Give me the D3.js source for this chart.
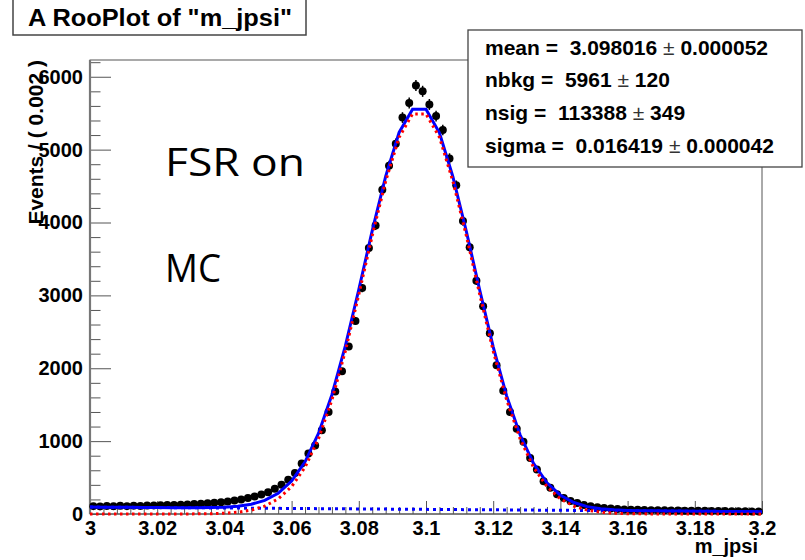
<!DOCTYPE html>
<html><head><meta charset="utf-8">
<script src="https://cdn.jsdelivr.net/npm/d3@7"></script>
<style>body{margin:0;background:#fff} svg{display:block} text{white-space:pre}</style>
</head><body>
<svg id="c" width="805" height="560"></svg>
<script>
// ---- data ----
const binCenters = d3.range(100).map(i => +(3.001 + 0.002 * i).toFixed(3));
const dataCounts = [
  108,104,110,106,112,108,114,110,116,118,
  120,124,122,128,132,136,142,146,155,162,
  172,185,200,218,240,268,300,345,400,470,
  564,692,829,940,1150,1400,1680,1960,2300,2650,
  3100,3650,3960,4450,4780,5080,5440,5640,5880,5800,
  5620,5460,5270,4880,4510,4020,3660,3200,2850,2480,
  2040,1690,1400,1170,990,770,610,450,360,270,
  220,180,150,125,105,92,82,74,68,63,
  60,57,55,53,51,50,48,47,46,45,
  44,43,42,41,40,39,38,37,36,35
];
const curveX = d3.range(51).map(i => +(3 + 0.004 * i).toFixed(3));
const totalFit = [
  95,94,92,91,90,89,87,87,87,88,
  93,105,133,187,284,452,716,1106,1637,2307,
  3081,3889,4634,5236,5555,5554,5232,4628,3880,3070,
  2293,1621,1087,694,428,258,158,101,71,57,
  49,45,43,41,40,38,37,36,35,33,32
];
const signalFit = [
  0,0,0,0,0,0,0,1,2,4,
  11,24,53,108,207,376,641,1032,1565,2236,
  3011,3820,4567,5170,5490,5490,5170,4567,3820,3011,
  2236,1565,1032,641,376,207,108,53,24,11,
  4,2,1,0,0,0,0,0,0,0,0
];
const bkgX = [3.0, 3.2];
const bkgFit = [95, 32];
const xTicks = [3, 3.02, 3.04, 3.06, 3.08, 3.1, 3.12, 3.14, 3.16, 3.18, 3.2];
const yTicks = [0, 1000, 2000, 3000, 4000, 5000, 6000];
const statNames = ["mean =  3.098016", "nbkg =  5961", "nsig =  113388", "sigma =  0.016419"];
const statErrors = ["0.000052", "120", "349", "0.000042"];
const plotTitle = 'A RooPlot of "m_jpsi"';
const yTitle = "Events / ( 0.002 )";
const xTitle = "m_jpsi";
const notes = ["FSR on", "MC"];

// ---- layout ----
const svg = d3.select("#c");
const L = 90, R = 762, T = 60, B = 514;
const x = d3.scaleLinear().domain([3, 3.2]).range([L, R]);
const y = d3.scaleLinear().domain([0, 6230]).range([B, T]);
const helv = "'Liberation Sans', Arial, Helvetica, sans-serif";

svg.append("rect").attr("width", 805).attr("height", 560).attr("fill", "#fff");

// frame
svg.append("rect").attr("x", L).attr("y", T).attr("width", R - L).attr("height", B - T)
  .attr("fill", "none").attr("stroke", "#555").attr("stroke-width", 1);

// x axis
const xMinor = d3.range(51).map(i => +(3 + 0.004 * i).toFixed(3)).filter(v => !xTicks.some(t => Math.abs(t - v) < 1e-9));
const gxm = svg.append("g").attr("transform", `translate(0,${B})`)
  .call(d3.axisBottom(x).tickValues(xMinor).tickSize(-7).tickFormat(""));
const gx = svg.append("g").attr("transform", `translate(0,${B})`)
  .call(d3.axisBottom(x).tickValues(xTicks).tickSize(-13).tickPadding(7).tickFormat(d => String(d)));
[gxm, gx].forEach(g => { g.select(".domain").remove(); g.selectAll("line").attr("stroke", "#555"); });
gx.selectAll("text").attr("font-family", helv).attr("font-weight", "bold").attr("font-size", 20).attr("fill", "#000");

// y axis
const yMinor = d3.range(0, 6201, 200).filter(v => v % 1000 !== 0);
const gym = svg.append("g").attr("transform", `translate(${L},0)`)
  .call(d3.axisLeft(y).tickValues(yMinor).tickSize(-10.5).tickFormat(""));
const gy = svg.append("g").attr("transform", `translate(${L},0)`)
  .call(d3.axisLeft(y).tickValues(yTicks).tickSize(-21).tickPadding(7).tickFormat(d => String(d)));
[gym, gy].forEach(g => { g.select(".domain").remove(); g.selectAll("line").attr("stroke", "#555"); });
gy.selectAll("text").attr("font-family", helv).attr("font-weight", "bold").attr("font-size", 20).attr("fill", "#000");

// left axis line
svg.append("line").attr("x1", L).attr("x2", L).attr("y1", T).attr("y2", B)
  .attr("stroke", "#777").attr("stroke-width", 2.2);
svg.append("line").attr("x1", L).attr("x2", R).attr("y1", B).attr("y2", B)
  .attr("stroke", "#555").attr("stroke-width", 1.2);

// data points
const pts = svg.append("g");
binCenters.forEach((c, i) => {
  const n = dataCounts[i], e = Math.sqrt(n);
  pts.append("line").attr("x1", x(c)).attr("x2", x(c)).attr("y1", y(n - e)).attr("y2", y(n + e))
    .attr("stroke", "#000").attr("stroke-width", 1.5);
  pts.append("line").attr("x1", x(c - 0.001)).attr("x2", x(c + 0.001)).attr("y1", y(n)).attr("y2", y(n))
    .attr("stroke", "#000").attr("stroke-width", 1.5);
  pts.append("circle").attr("cx", x(c)).attr("cy", y(n)).attr("r", 4).attr("fill", "#000");
});

// curves
const line = d3.line().x(d => x(d[0])).y(d => y(d[1]));
svg.append("path").attr("d", line(curveX.map((v, i) => [v, totalFit[i]])))
  .attr("fill", "none").attr("stroke", "#0000ff").attr("stroke-width", 3);
svg.append("path").attr("d", line(bkgX.map((v, i) => [v, bkgFit[i]])))
  .attr("fill", "none").attr("stroke", "#0000ff").attr("stroke-width", 3).attr("stroke-dasharray", "3,4");
svg.append("path").attr("d", line(curveX.map((v, i) => [v, signalFit[i]])))
  .attr("fill", "none").attr("stroke", "#ff0000").attr("stroke-width", 3).attr("stroke-dasharray", "2.5,3.5");

// titles
svg.append("text").attr("transform", "translate(43,60) rotate(-90)").attr("text-anchor", "end")
  .attr("font-family", helv).attr("font-weight", "bold").attr("font-size", 21).text(yTitle);
svg.append("text").attr("x", 758).attr("y", 553).attr("text-anchor", "end")
  .attr("font-family", helv).attr("font-weight", "bold").attr("font-size", 20).text(xTitle);

// plot title box
svg.append("rect").attr("x", 13).attr("y", -6).attr("width", 293).attr("height", 41)
  .attr("fill", "#fff").attr("stroke", "#444").attr("stroke-width", 1.5);
svg.append("text").attr("x", 28).attr("y", 26).attr("font-family", helv).attr("font-weight", "bold")
  .attr("font-size", 23).attr("textLength", 264).attr("lengthAdjust", "spacingAndGlyphs").text(plotTitle);

// stats box
svg.append("rect").attr("x", 468).attr("y", 30).attr("width", 334).attr("height", 137)
  .attr("fill", "#fff").attr("stroke", "#444").attr("stroke-width", 1.3);
const statBase = [55, 87, 120, 153];
statNames.forEach((s, i) => {
  const t = svg.append("text").attr("x", 485).attr("y", statBase[i]).attr("font-family", helv)
    .attr("font-weight", "bold").attr("font-size", 21);
  t.append("tspan").text(s + " ");
  t.append("tspan").attr("font-weight", "normal").attr("fill", "#333").text("±");
  t.append("tspan").text(" " + statErrors[i]);
});

// annotations
const noteFont = "'Open Sans', 'Noto Sans', sans-serif";
svg.append("text").attr("x", 165).attr("y", 176).attr("font-family", noteFont).attr("font-size", 39)
  .attr("textLength", 140).attr("lengthAdjust", "spacingAndGlyphs").text(notes[0]);
svg.append("text").attr("x", 165).attr("y", 282).attr("font-family", noteFont).attr("font-size", 39)
  .attr("textLength", 56).attr("lengthAdjust", "spacingAndGlyphs").text(notes[1]);
</script>
</body></html>
